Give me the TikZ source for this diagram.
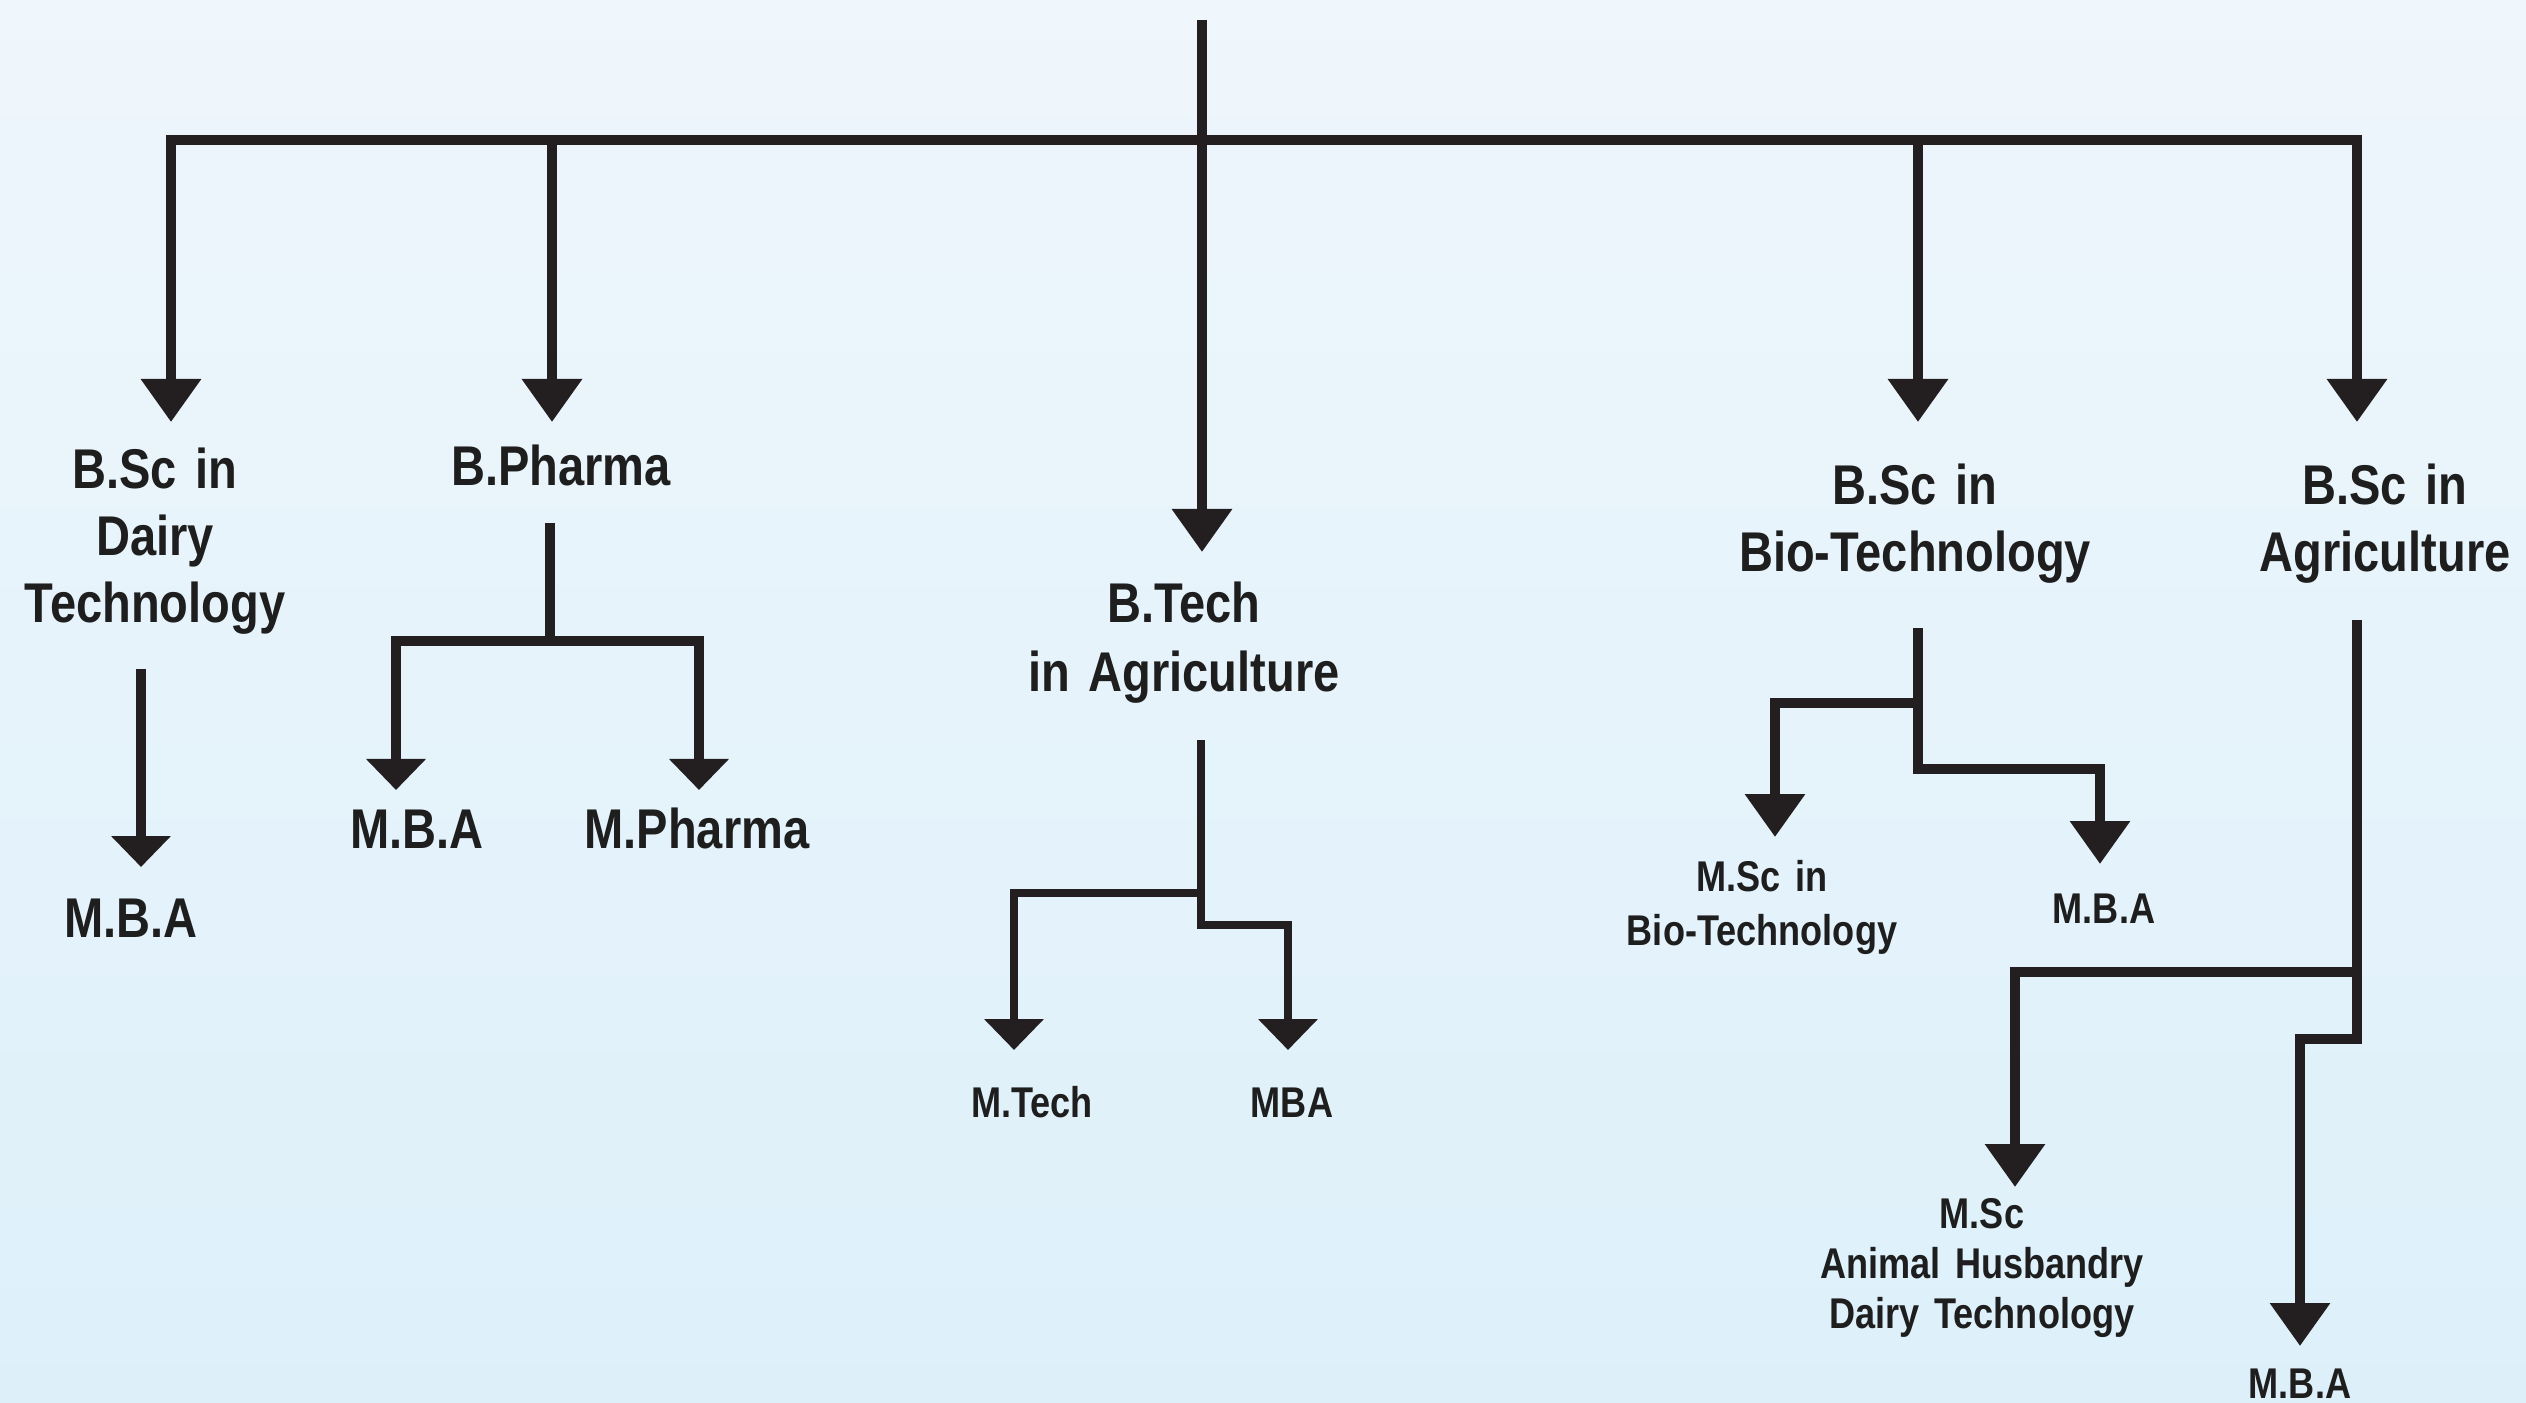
\documentclass[tikz,border=0pt]{standalone}
\usepackage{fontspec}
\usetikzlibrary{arrows.meta}
\newfontfamily\lblfont[FakeStretch=0.84]{Liberation Sans}
\definecolor{ink}{RGB}{35,31,32}
\definecolor{txt}{RGB}{30,30,30}
\definecolor{bgtop}{RGB}{239,246,252}
\definecolor{bgbot}{RGB}{221,240,250}
\newcommand{\tightsp}{\fontdimen2\font=0.15em\fontdimen3\font=0pt\fontdimen4\font=0pt}
\newcommand{\bigfnt}{\lblfont\bfseries\fontsize{16.8pt}{20.1pt}\selectfont\tightsp}
\newcommand{\smallfnt}{\lblfont\bfseries\fontsize{12.9pt}{15pt}\selectfont\tightsp}
\newcommand{\midfnt}{\lblfont\bfseries\fontsize{12.9pt}{16.2pt}\selectfont\tightsp}
\newcommand{\btfnt}{\lblfont\bfseries\fontsize{16.8pt}{20.7pt}\selectfont\tightsp}
\tikzset{
  BigT/.tip={Triangle[width=17.4pt,length=12.9pt]},
  SmT/.tip={Triangle[width=17.4pt,length=9.3pt]},
  conn/.style={draw=ink,line width=3pt,line join=miter},
  thinconn/.style={draw=ink,line width=2.4pt,line join=miter},
  biglbl/.style={text=txt,font=\bigfnt,text width=140pt,align=center,anchor=base,inner sep=0pt},
  smalllbl/.style={text=txt,font=\smallfnt,text width=140pt,align=center,anchor=base,inner sep=0pt},
  midlbl/.style={text=txt,font=\midfnt,text width=140pt,align=center,anchor=base,inner sep=0pt},
}
\begin{document}
\begin{tikzpicture}[x=0.3pt,y=-0.3pt]
\useasboundingbox (0,0) rectangle (2526,1403);
\shade[top color=bgtop,bottom color=bgbot] (0,0) rectangle (2526,1403);

% ---------- coordinates ----------
\coordinate (top) at (1202,20);
\coordinate (barR) at (2357,140);
\coordinate (jPh) at (552,140);
\coordinate (jBio) at (1918,140);
\coordinate (tD) at (171,422);
\coordinate (tP) at (552,422);
\coordinate (tBT) at (1202,552);
\coordinate (tB) at (1918,422);
\coordinate (tA) at (2357,422);

\coordinate (dS) at (141,669);
\coordinate (tdM) at (141,867);

\coordinate (pS) at (550,523);
\coordinate (pJ) at (550,641);
\coordinate (tpM) at (396,790);
\coordinate (tpP) at (699,790);

\coordinate (btS) at (1201,740);
\coordinate (btJ) at (1201,893);
\coordinate (btK) at (1201,925);
\coordinate (tbtM) at (1014,1050);
\coordinate (tbtB) at (1288,1050);

\coordinate (bS) at (1918,628);
\coordinate (bJ) at (1918,703);
\coordinate (bK) at (1918,769);
\coordinate (tbM) at (1775,837);
\coordinate (tbB) at (2100,864);

\coordinate (aS) at (2357,620);
\coordinate (aJ) at (2357,972);
\coordinate (aK) at (2357,1039);
\coordinate (taM) at (2015,1187);
\coordinate (taB) at (2300,1346);

% ---------- labels ----------
\node[biglbl] (nDairy) at (155,489) {B.Sc in\\Dairy\\Technology};
\node[biglbl] (nPharma) at (561,486) {B.Pharma};
\node[biglbl,font=\btfnt] (nBTech) at (1184,623) {B.Tech\\in Agriculture};
\node[biglbl] (nBio) at (1915,505) {B.Sc in\\Bio-Technology};
\node[biglbl] (nAgri) at (2385,505) {B.Sc in\\Agriculture};

\node[biglbl] (nDMBA) at (131,937) {M.B.A};
\node[biglbl] (nPMBA) at (417,849) {M.B.A};
\node[biglbl] (nPPharma) at (697,849) {M.Pharma};

\node[smalllbl] (nMTech) at (1032,1117) {M.Tech};
\node[smalllbl] (nBTMBA) at (1292,1117) {MBA};

\node[midlbl] (nBMSc) at (1762,892) {M.Sc in\\Bio-Technology};
\node[smalllbl] (nBMBA) at (2104,923) {M.B.A};

\node[smalllbl] (nAMSc) at (1982,1228) {M.Sc\\Animal Husbandry\\Dairy Technology};
\node[smalllbl] (nAMBA) at (2300,1398) {M.B.A};

% ---------- connectors ----------
\draw[conn,-BigT] (top) -- (tBT);
\draw[conn,BigT-BigT] (tD) |- (barR) -- (tA);
\draw[conn,-BigT] (jPh) -- (tP);
\draw[conn,-BigT] (jBio) -- (tB);

\draw[conn,-SmT] (dS) -- (tdM);

\draw[conn] (pS) -- (pJ);
\draw[conn,SmT-SmT] (tpM) |- (pJ) -| (tpP);

\draw[thinconn,-SmT] (btS) -- (btK) -| (tbtB);
\draw[thinconn,-SmT] (btJ) -| (tbtM);

\draw[conn,-BigT] (bS) -- (bK) -| (tbB);
\draw[conn,-BigT] (bJ) -| (tbM);

\draw[conn,-BigT] (aS) -- (aK) -| (taB);
\draw[conn,-BigT] (aJ) -| (taM);
\end{tikzpicture}
\end{document}
